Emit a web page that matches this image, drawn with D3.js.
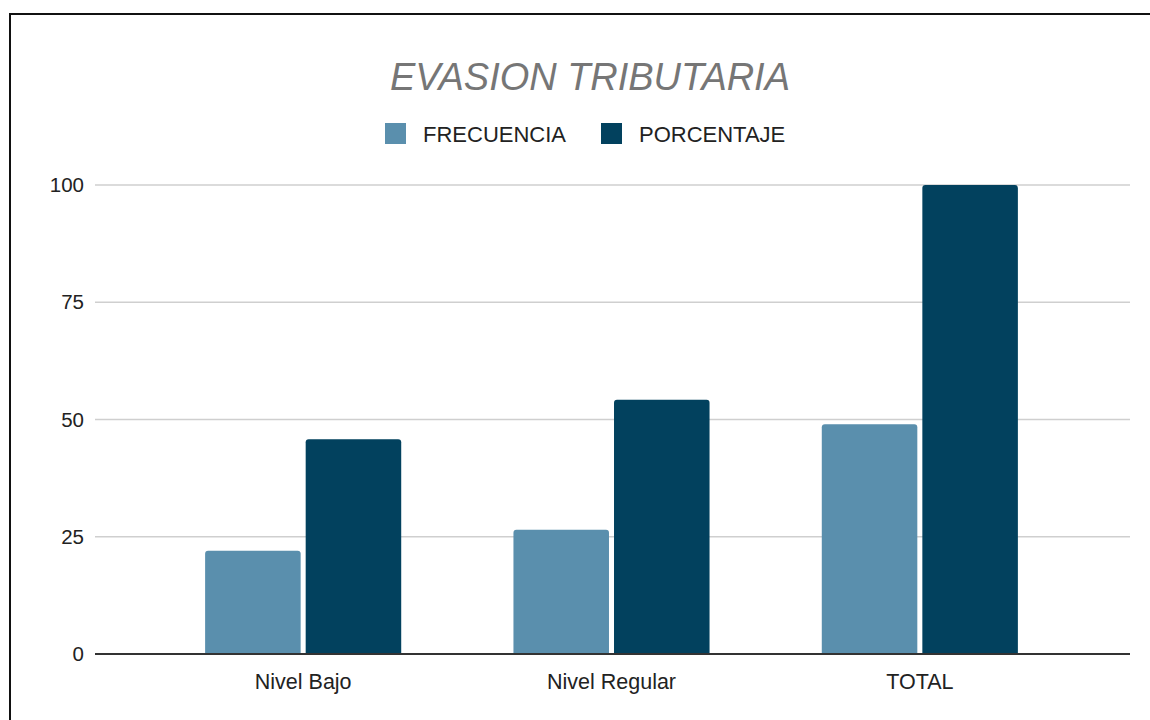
<!DOCTYPE html>
<html>
<head>
<meta charset="utf-8">
<script src="https://cdn.jsdelivr.net/npm/d3@7"></script>
<style>
  body { margin: 0; background: #fff; }
  svg { display: block; font-family: "Liberation Sans", Arial, sans-serif; }
</style>
</head>
<body>
<div id="chart"></div>
<script>
const categories = ["Nivel Bajo", "Nivel Regular", "TOTAL"];
const series = ["FRECUENCIA", "PORCENTAJE"];
const frecuencia = [22, 26.5, 49];
const porcentaje = [45.8, 54.2, 100];
const yTicks = [0, 25, 50, 75, 100];

const colors = ["#5a8fad", "#02415e"];
const W = 1150, H = 720;
const plot = { left: 95, right: 1130, top: 185, bottom: 654 };

const svg = d3.select("#chart").append("svg")
    .attr("width", W)
    .attr("height", H);

// frame
svg.append("rect")
    .attr("x", 10).attr("y", 14)
    .attr("width", W).attr("height", H)
    .attr("fill", "none")
    .attr("stroke", "#111")
    .attr("stroke-width", 2);

const y = d3.scaleLinear().domain([0, 100]).range([plot.bottom, plot.top]);

const x0 = d3.scaleBand()
    .domain(categories)
    .range([149, 1074])
    .paddingInner(0.364)
    .paddingOuter(0.182);

const x1 = d3.scaleBand()
    .domain(series)
    .range([0, x0.bandwidth()])
    .paddingInner(0.05);

// gridlines
svg.append("g")
    .selectAll("line")
    .data(yTicks.filter(d => d > 0))
    .join("line")
    .attr("x1", plot.left).attr("x2", plot.right)
    .attr("y1", d => y(d)).attr("y2", d => y(d))
    .attr("stroke", "#cfcfcf")
    .attr("stroke-width", 1.5);

// y labels
const yAxis = svg.append("g")
    .attr("transform", `translate(${plot.left - 11},0)`)
    .call(d3.axisLeft(y).tickValues(yTicks).tickSize(0).tickPadding(0));
yAxis.select(".domain").remove();
yAxis.selectAll("text")
    .attr("font-size", 20.5)
    .attr("font-family", "Liberation Sans, Arial, sans-serif")
    .attr("fill", "#222");

// bars
const rows = categories.map((c, i) => ({ cat: c, values: [frecuencia[i], porcentaje[i]] }));

function topRounded(x, yTop, w, h, r) {
    return `M${x},${yTop + h}V${yTop + r}Q${x},${yTop} ${x + r},${yTop}H${x + w - r}Q${x + w},${yTop} ${x + w},${yTop + r}V${yTop + h}Z`;
}

svg.append("g")
    .selectAll("g")
    .data(rows)
    .join("g")
    .attr("transform", d => `translate(${x0(d.cat)},0)`)
    .selectAll("path")
    .data(d => d.values.map((v, j) => ({ s: series[j], v, j })))
    .join("path")
    .attr("d", d => topRounded(x1(d.s), y(d.v), x1.bandwidth(), y(0) - y(d.v), 3))
    .attr("fill", d => colors[d.j]);

// baseline
svg.append("line")
    .attr("x1", plot.left).attr("x2", plot.right)
    .attr("y1", y(0)).attr("y2", y(0))
    .attr("stroke", "#333")
    .attr("stroke-width", 2);

// x labels
const xAxis = svg.append("g")
    .attr("transform", `translate(0,${y(0)})`)
    .call(d3.axisBottom(x0).tickSize(0).tickPadding(20));
xAxis.select(".domain").remove();
xAxis.selectAll("text")
    .attr("font-size", 21.5)
    .attr("font-family", "Liberation Sans, Arial, sans-serif")
    .attr("fill", "#222");

// title
svg.append("text")
    .attr("x", 590).attr("y", 90)
    .attr("text-anchor", "middle")
    .attr("font-size", 38)
    .attr("font-style", "italic")
    .attr("fill", "#767676")
    .attr("textLength", 400)
    .text("EVASION TRIBUTARIA");

// legend
const legendX = [385, 601];
const legend = svg.append("g")
    .selectAll("g")
    .data(series)
    .join("g")
    .attr("transform", (d, i) => `translate(${legendX[i]},123)`);
legend.append("rect")
    .attr("width", 21).attr("height", 21)
    .attr("fill", (d, i) => colors[i]);
legend.append("text")
    .attr("x", 38).attr("y", 19)
    .attr("font-size", 22)
    .attr("fill", "#222")
    .text(d => d);
</script>
</body>
</html>
